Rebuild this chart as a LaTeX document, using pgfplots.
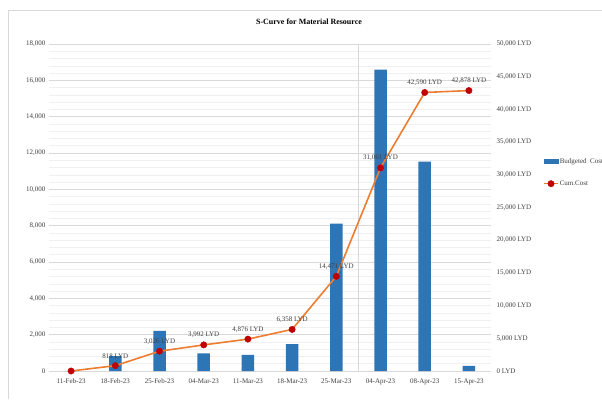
\documentclass[border=0pt]{standalone}
\usepackage{fontspec}
\setmainfont{Liberation Serif}
\usepackage{pgfplots}
\pgfplotsset{compat=1.18}
\usepackage{pgfplotstable}

\definecolor{barblue}{HTML}{2E75B6}
\definecolor{cumorange}{HTML}{ED7D31}
\definecolor{markred}{HTML}{C00000}
\definecolor{gridmajor}{HTML}{D9D9D9}
\definecolor{gridminor}{HTML}{F0F0F0}
\definecolor{labelgray}{HTML}{404040}

% weekly budgeted cost and cumulative cost (LYD)
\pgfplotstableread[col sep=semicolon]{
x;cost;cum;label
0;0;0;
1;818;818;818 LYD
2;2208;3026;3,026 LYD
3;966;3992;3,992 LYD
4;884;4876;4,876 LYD
5;1482;6358;6,358 LYD
6;8113;14471;14,471 LYD
7;16590;31061;31,061 LYD
8;11529;42590;42,590 LYD
9;288;42878;42,878 LYD
}\costdata

\pgfplotsset{
  common/.style={
    at={(49pt,28pt)}, anchor=south west,
    scale only axis, width=442pt, height=327pt,
    xmin=-0.5, xmax=9.5,
    scaled y ticks=false,
    axis line style={draw=none},
    tick style={draw=none},
    ticklabel style={font=\fontsize{7}{8}\selectfont, text=labelgray},
    /pgf/number format/assume math mode=true,
    /pgf/number format/.cd, fixed, precision=0, 1000 sep={,},
  },
  shortline legend/.style={
    legend image code/.code={\draw[mark repeat=2, mark phase=2, ##1] plot coordinates {(0pt,0pt) (7pt,0pt) (14pt,0pt)};},
  },
  shortbar legend/.style={
    legend image code/.code={\fill[barblue] (0pt,-2pt) rectangle (14pt,2pt);},
  },
}

\begin{document}
\begin{tikzpicture}
\useasboundingbox (0,0) rectangle (602pt,399pt);
\fill[white] (0,0) rectangle (602pt,399pt);
\draw[gridmajor, line width=0.6pt] (8pt,0pt) -- (8pt,389pt) -- (602pt,389pt);

\node[font=\bfseries\fontsize{8}{10}\selectfont] at (309pt,377pt) {S-Curve for Material Resource};

% budgeted cost per week (left axis)
\begin{axis}[
  common,
  ymin=0, ymax=18000,
  ytick={0,2000,...,18000},
  minor y tick num=4,
  ymajorgrids, yminorgrids,
  major grid style={gridmajor, line width=0.6pt},
  minor grid style={gridminor, line width=0.5pt},
  xtick={0,...,9},
  xticklabels={11-Feb-23,18-Feb-23,25-Feb-23,04-Mar-23,11-Mar-23,18-Mar-23,25-Mar-23,04-Apr-23,08-Apr-23,15-Apr-23},
  ybar, bar width=12.5pt,
]
\draw[gridmajor, line width=0.6pt] (axis cs:6.5,0) -- (axis cs:6.5,18000);
\addplot[fill=barblue, draw=none] table[x=x, y=cost] {\costdata};
\end{axis}

% cumulative cost (right axis)
\begin{axis}[
  common,
  ymin=0, ymax=50000,
  axis x line=none,
  axis y line*=right,
  ytick={0,5000,...,50000},
  yticklabel={\pgfmathprintnumber{\tick} LYD},
  y tick label style={xshift=2pt},
  legend style={
    at={(axis description cs:1.1176,0.607)}, anchor=west,
    draw=none, fill=none, inner sep=0pt,
    font=\fontsize{7}{8}\selectfont, text=labelgray,
    row sep=14pt,
    nodes={inner sep=1pt, anchor=west},
  },
  legend cell align=left,
]
\addlegendimage{shortbar legend}
\addlegendentry{Budgeted\ \ Cost}
\addplot[cumorange, line width=1.6pt,
  mark=*, mark size=3.2pt, mark options={fill=markred, draw=markred, line width=0.4pt},
  nodes near coords, point meta=explicit symbolic,
  every node near coord/.style={font=\fontsize{7}{8}\selectfont, text=labelgray, anchor=south, yshift=3.5pt},
  shortline legend,
] table[x=x, y=cum, meta=label] {\costdata};
\addlegendentry{Cum.Cost}
\end{axis}
\end{tikzpicture}
\end{document}
